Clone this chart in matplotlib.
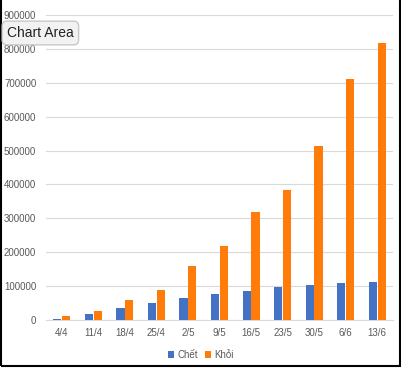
import numpy as np
import matplotlib.pyplot as plt
from matplotlib.patches import Rectangle

plt.rcParams['font.family'] = ['Liberation Sans', 'DejaVu Sans']

dates = ['4/4', '11/4', '18/4', '25/4', '2/5', '9/5', '16/5', '23/5', '30/5', '6/6', '13/6']
chet = [4000, 18000, 35000, 51000, 64000, 77000, 87000, 97000, 103000, 109000, 113000]
khoi = [11000, 28000, 58000, 89000, 158000, 218000, 320000, 385000, 514000, 712000, 818000]
yticks = np.arange(0, 900001, 100000)

BLUE = '#4472C4'
ORANGE = '#FF7C0A'
GRAY = '#595959'

fig = plt.figure(figsize=(4.02, 3.68), dpi=100)
ax = fig.add_axes([46 / 402, 1 - 320 / 368, 347 / 402, 305 / 368])

x = np.arange(len(dates))
w = 0.26
ax.bar(x - w / 2 - 0.01, chet, width=w, color=BLUE, label='Chết', zorder=3)
ax.bar(x + w / 2 + 0.01, khoi, width=w, color=ORANGE, label='Khỏi', zorder=3)

ax.set_xlim(-0.5, len(dates) - 0.5)
ax.set_ylim(0, 900000)
ax.set_yticks(yticks)
ax.set_yticklabels([str(v) for v in yticks], fontsize=7, color=GRAY)
ax.set_xticks(x)
ax.set_xticklabels(dates, fontsize=7, color=GRAY)
ax.tick_params(length=0, pad=6)
ax.tick_params(axis='y', pad=7)
ax.grid(axis='y', color='#D9D9D9', linewidth=0.8, zorder=0)
for s in ['top', 'right', 'left']:
    ax.spines[s].set_visible(False)
ax.spines['bottom'].set_color('#D9D9D9')

leg = fig.legend(loc='center', bbox_to_anchor=(0.5, 1 - 355 / 368), ncol=2,
                 frameon=False, fontsize=7, handlelength=0.6, handleheight=0.6,
                 handletextpad=0.3, columnspacing=0.8)
for t in leg.get_texts():
    t.set_color(GRAY)

# black frame around the chart
fig.add_artist(Rectangle((0.002, 0.006), 0.993, 1.2, transform=fig.transFigure,
                         fill=False, edgecolor='black', linewidth=1.5))

# the "Chart Area" tooltip
fig.text(7 / 402, 1 - 33 / 368, 'Chart Area', fontsize=10, color='#222222',
         va='center', ha='left',
         bbox=dict(boxstyle='round,pad=0.35', facecolor='#F2F2F2', edgecolor='#C8C8C8'))

fig.savefig('out.png', dpi=100)
